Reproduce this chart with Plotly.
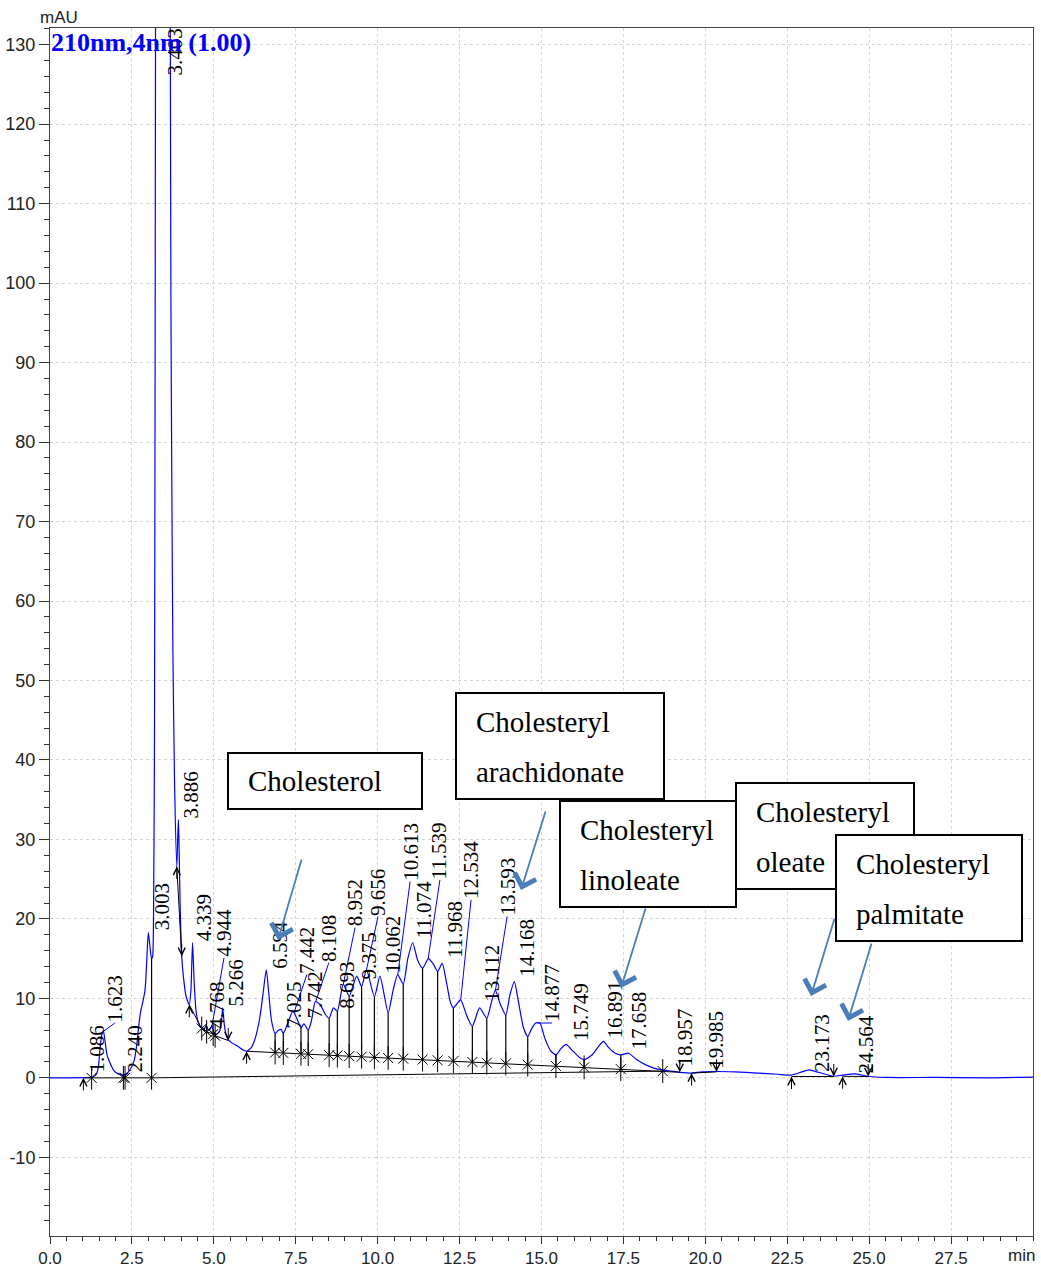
import numpy as np
import plotly.graph_objects as go

# ---------------- chromatogram (210 nm, 4 nm bandwidth) ----------------
trace_t = [0.00, 0.50, 1.00, 1.30, 1.42, 1.48, 1.53, 1.58, 1.63, 1.68, 1.74, 1.83, 1.95, 2.08, 2.24,
           2.36, 2.47, 2.57, 2.64, 2.70, 2.76, 2.83, 2.90, 2.95, 3.00, 3.05, 3.10, 3.13, 3.16, 3.19,
           3.22, 3.27, 3.40, 3.55, 3.67, 3.69, 3.72, 3.75, 3.80, 3.87, 3.90, 3.92, 3.94, 3.97, 4.02,
           4.07, 4.15, 4.25, 4.30, 4.35, 4.40, 4.46, 4.53, 4.63, 4.70, 4.77, 4.83, 4.90, 4.94, 5.00,
           5.07, 5.15, 5.22, 5.27, 5.32, 5.38, 5.44, 5.55, 5.72, 5.90, 6.00, 6.12, 6.25, 6.40, 6.50,
           6.60, 6.68, 6.76, 6.87, 6.97, 7.05, 7.12, 7.25, 7.41, 7.55, 7.66, 7.75, 7.88, 7.98, 8.10,
           8.25, 8.40, 8.52, 8.65, 8.77, 8.95, 9.13, 9.36, 9.51, 9.66, 9.90, 10.07, 10.32, 10.47, 10.61,
           10.78, 10.92, 11.07, 11.22, 11.37, 11.55, 11.70, 11.83, 11.97, 12.10, 12.22, 12.31, 12.53, 12.72, 12.89,
           13.11, 13.33, 13.47, 13.59, 13.75, 13.91, 14.04, 14.17, 14.30, 14.45, 14.58, 14.70, 14.82, 14.95, 15.10,
           15.28, 15.44, 15.60, 15.75, 15.95, 16.15, 16.30, 16.55, 16.75, 16.89, 17.05, 17.25, 17.42, 17.66, 17.90,
           18.20, 18.45, 18.70, 18.96, 19.22, 19.58, 19.90, 20.34, 20.90, 21.60, 22.20, 22.63, 22.95, 23.17, 23.45,
           23.92, 24.19, 24.56, 24.97, 25.50, 27.00, 28.50, 30.00]
trace_v = [0.00, 0.00, 0.02, 0.10, 0.5, 1.5, 3.8, 5.4, 5.9, 4.6, 2.9, 1.9, 0.9, 0.5, 0.35,
           0.6, 1.2, 2.2, 3.9, 6.2, 8.2, 9.5, 11.0, 14.5, 18.3, 16.5, 15.0, 15.2, 20.5, 45.0,
           130.0, 320.0, 450.0, 320.0, 135.0, 98.0, 73.0, 54.0, 37.5, 26.6, 30.5, 32.5, 29.0, 22.0, 15.3,
           12.8, 10.3, 9.2, 11.0, 17.0, 12.0, 8.3, 6.9, 6.2, 6.1, 6.6, 6.0, 6.2, 6.6, 5.7,
           5.5, 5.7, 6.6, 8.8, 6.7, 5.3, 4.8, 4.4, 4.0, 3.5, 3.35, 3.7, 4.8, 7.5, 10.5,
           13.6, 10.5, 7.2, 5.6, 6.0, 6.1, 5.6, 6.8, 8.4, 7.3, 6.3, 6.8, 6.0, 7.2, 9.6,
           9.2, 8.0, 7.5, 8.8, 8.4, 11.8, 10.3, 12.8, 11.5, 13.6, 10.2, 12.8, 8.2, 11.0, 13.0,
           11.8, 15.0, 17.0, 14.8, 13.8, 15.0, 14.3, 13.4, 14.4, 12.0, 9.5, 8.8, 9.8, 7.8, 6.5,
           8.8, 7.5, 9.5, 11.0, 9.2, 7.9, 10.5, 12.1, 9.5, 6.3, 5.2, 6.2, 6.9, 6.9, 5.0,
           3.4, 2.9, 3.7, 4.2, 3.4, 2.6, 2.3, 2.9, 4.0, 4.6, 3.8, 3.1, 2.9, 3.1, 2.3,
           1.6, 1.2, 1.0, 0.85, 0.7, 0.6, 0.75, 0.8, 0.75, 0.6, 0.45, 0.35, 0.75, 1.0, 0.7,
           0.2, 0.35, 0.5, 0.2, 0.05, 0.05, 0.00, 0.10]

# ---------------- integration results ----------------
peak_rt = [1.086, 1.623, 2.240, 3.003, 3.403, 3.886, 4.339, 4.768, 4.944, 5.266,
           6.594, 7.025, 7.442, 7.742, 8.108, 8.693, 8.952, 9.375, 9.656, 10.062,
           10.613, 11.074, 11.539, 11.968, 12.534, 13.112, 13.593, 14.168, 14.877, 15.749,
           16.891, 17.658, 18.957, 19.985, 23.173, 24.564]

# baselines drawn by the integrator (segments separated by None)
base_t = [1.02, 3.10, 18.70, None, 3.87, 4.02, None,
          4.25, 4.63, 4.78, 4.98, 5.04, 5.44, None,
          6.00, 18.70, 19.22, None, 19.58, 20.34, None,
          22.63, 23.92, None, 24.19, 24.97]
base_v = [0.0, 0.0, 0.85, None, 26.6, 15.3, None,
          9.2, 6.2, 5.8, 5.5, 5.3, 4.7, None,
          3.35, 0.85, 0.7, None, 0.6, 0.75, None,
          0.17, 0.17, None, 0.2, 0.17]

# peak separation points (drop lines), with their baseline levels
split_t = [1.27, 2.24, 2.29, 3.10,
           4.63, 4.78, 4.98, 5.04,
           6.87, 7.12, 7.66, 7.88, 8.52, 8.77, 9.13, 9.51, 9.90, 10.32, 10.78,
           11.37, 11.83, 12.31, 12.89, 13.33, 13.91, 14.58, 15.44, 16.30, 17.42, 18.70]
split_base = [0.0, 0.0, 0.0, 0.0,
              6.2, 5.8, 5.5, 5.3]
d_t, d_v = [6.00, 18.70], [3.35, 0.85]
split_base += [float(np.interp(t, d_t, d_v)) for t in split_t[8:]]

# peak start / end markers
start_t = [1.02, 3.87, 4.25, 6.00, 19.58, 22.63, 24.19]
start_v = [0.0, 26.6, 9.2, 3.35, 0.6, 0.17, 0.2]
end_t = [4.02, 5.44, 19.22, 20.34, 23.92, 24.97]
end_v = [15.3, 4.7, 0.7, 0.75, 0.17, 0.17]

# retention-time label anchors (bottom centre of rotated text) and leader flags
label_t = [1.43, 1.98, 2.59, 3.42, 3.80, 4.32, 4.70, 5.10, 5.31, 5.68,
           7.02, 7.45, 7.84, 8.09, 8.51, 9.06, 9.31, 9.73, 10.01, 10.44,
           10.99, 11.43, 11.90, 12.36, 12.85, 13.49, 13.95, 14.56, 15.32, 16.20,
           17.24, 17.99, 19.35, 20.32, 23.56, 24.90]
label_v = [0.6, 6.9, 0.6, 18.4, 126.0, 32.5, 17.0, 6.0, 15.1, 8.8,
           13.6, 6.0, 13.0, 7.3, 14.5, 8.6, 18.9, 12.3, 20.3, 13.0,
           24.7, 17.4, 24.9, 14.9, 22.4, 9.4, 20.3, 12.6, 6.9, 4.5,
           4.8, 3.5, 1.3, 1.0, 0.6, 0.4]
leader = [False, True, False, False, False, False, False, False, True, False,
          False, False, True, False, True, False, True, False, True, False,
          True, False, True, False, True, False, True, False, True, False,
          False, False, False, False, False, False]

# compound call-outs
callout_names = [["Cholesterol"], ["Cholesteryl", "arachidonate"], ["Cholesteryl", "linoleate"],
                 ["Cholesteryl", "oleate"], ["Cholesteryl", "palmitate"]]

# ---------------- figure geometry (pixels) ----------------
W, H = 1041, 1271
ML, MR, MT, MB = 50, 8, 28, 35
PW, PH = W - ML - MR, H - MT - MB


def pxx(x):
    return (x - ML) / PW


def pxy(y):
    return (H - MB - y) / PH


BLUE = "#0000ff"
ARROW = "#4a7ebb"
SERIF = "Liberation Serif, Times New Roman, serif"
SANS = "Liberation Sans, Arial, sans-serif"

fig = go.Figure()

# chromatogram
fig.add_trace(go.Scatter(x=trace_t, y=trace_v, mode="lines",
                         line=dict(color=BLUE, width=1.2, shape="spline", smoothing=0.6),
                         hoverinfo="skip", showlegend=False))

# leader lines from peak apex to its label
apex_v = np.interp(peak_rt, trace_t, trace_v)
lx, ly = [], []
for rt, av, tx, ty, flag in zip(peak_rt, apex_v, label_t, label_v, leader):
    if flag:
        lx += [rt, tx, None]
        ly += [av, ty, None]
fig.add_trace(go.Scatter(x=lx, y=ly, mode="lines", line=dict(color=BLUE, width=1),
                         hoverinfo="skip", showlegend=False))

# baselines
fig.add_trace(go.Scatter(x=base_t, y=base_v, mode="lines", line=dict(color="black", width=1),
                         connectgaps=False, hoverinfo="skip", showlegend=False))

# drop lines at separation points
top_v = np.interp(split_t, trace_t, trace_v)
dx, dy = [], []
for t, b, tv in zip(split_t, split_base, top_v):
    dx += [t, t, None]
    dy += [b, tv, None]
fig.add_trace(go.Scatter(x=dx, y=dy, mode="lines", line=dict(color="black", width=1.2),
                         hoverinfo="skip", showlegend=False))

# separation markers (vertical bar + cross)
fig.add_trace(go.Scatter(x=split_t, y=split_base, mode="markers",
                         marker=dict(symbol="x-thin-open", size=10, color="black",
                                     line=dict(color="black", width=1)),
                         hoverinfo="skip", showlegend=False))
fig.add_trace(go.Scatter(x=split_t, y=split_base, mode="markers",
                         marker=dict(symbol="line-ns-open", size=17, color="black",
                                     line=dict(color="black", width=1)),
                         hoverinfo="skip", showlegend=False))

annotations = []

# start (up) and end (down) arrows on the baselines
for t, v in zip(start_t, start_v):
    annotations.append(dict(x=t, y=v, xref="x", yref="y", ax=0, ay=14, text="",
                            showarrow=True, arrowhead=5, arrowsize=1.4, arrowwidth=1,
                            arrowcolor="black"))
for t, v in zip(end_t, end_v):
    annotations.append(dict(x=t, y=v, xref="x", yref="y", ax=0, ay=-14, text="",
                            showarrow=True, arrowhead=5, arrowsize=1.4, arrowwidth=1,
                            arrowcolor="black"))

# retention-time labels
for rt, tx, ty in zip(peak_rt, label_t, label_v):
    annotations.append(dict(x=tx, y=ty, xref="x", yref="y", text=f"{rt:.3f}", showarrow=False,
                            textangle=-90, xanchor="center", yanchor="bottom", borderpad=0,
                            font=dict(family=SERIF, size=21, color="black")))

# call-out boxes: (x0, y0, x1, y1) in pixels, text lines centred at the listed heights
boxes = [(228, 753, 422, 809), (456, 693, 664, 799), (560, 801, 736, 907),
         (736, 783, 914, 889), (836, 835, 1022, 941)]
line_y = [[781], [722, 772], [830, 880], [812, 862], [864, 914]]
shapes = []
for (x0, y0, x1, y1), names, ys in zip(boxes, callout_names, line_y):
    shapes.append(dict(type="rect", xref="paper", yref="paper",
                       x0=pxx(x0), x1=pxx(x1), y0=pxy(y1), y1=pxy(y0),
                       line=dict(color="black", width=2), fillcolor="white", layer="above"))
    for name, yc in zip(names, ys):
        annotations.append(dict(x=pxx(x0 + 18), y=pxy(yc), xref="paper", yref="paper",
                                text=name, showarrow=False, xanchor="left", yanchor="middle",
                                font=dict(family=SERIF, size=29, color="black")))

# call-out arrows: head and tail in pixels
arrows = [((278, 940), (302, 858)), ((521, 890), (546, 810)), ((621, 988), (646, 907)),
          ((811, 996), (835, 917)), ((848, 1021), (872, 942))]
for (hx, hy), (tx, ty) in arrows:
    annotations.append(dict(x=pxx(hx), y=pxy(hy), xref="paper", yref="paper",
                            ax=tx - hx, ay=ty - hy, text="", showarrow=True,
                            arrowhead=4, arrowsize=2.4, arrowwidth=1.8, arrowcolor=ARROW))

# channel title, units
annotations.append(dict(x=0, y=1, xref="paper", yref="paper", xanchor="left", yanchor="top",
                        text="<b>210nm,4nm (1.00)</b>", showarrow=False, borderpad=0,
                        yshift=1, font=dict(family=SERIF, size=26, color=BLUE)))
annotations.append(dict(x=pxx(39), y=1, xref="paper", yref="paper", xanchor="left",
                        yanchor="bottom", text="mAU", showarrow=False, borderpad=0,
                        font=dict(family=SANS, size=17, color="#222")))
annotations.append(dict(x=pxx(1036), y=0, xref="paper", yref="paper", xanchor="right",
                        yanchor="top", yshift=-9, text="min", showarrow=False, borderpad=0,
                        font=dict(family=SANS, size=17, color="#222")))

xt = [i * 2.5 for i in range(12)]
yt = list(range(-10, 131, 10))

fig.update_layout(
    width=W, height=H, margin=dict(l=ML, r=MR, t=MT, b=MB, autoexpand=False),
    paper_bgcolor="white", plot_bgcolor="white",
    shapes=shapes, annotations=annotations, showlegend=False,
    xaxis=dict(range=[0, 30], tickvals=xt, ticktext=[f"{v:.1f}" for v in xt],
               ticks="outside", ticklen=7, tickcolor="#333", tickwidth=1,
               minor=dict(dtick=0.5, ticks="outside", ticklen=4, tickcolor="#333", showgrid=False),
               showgrid=True, gridcolor="#d4d4d4", griddash="dot", gridwidth=1,
               showline=True, linecolor="#444", linewidth=1, mirror=True, zeroline=False,
               tickfont=dict(family=SANS, size=17, color="#222")),
    yaxis=dict(range=[-19.9, 132.1], tickvals=yt, ticktext=[str(v) for v in yt],
               ticks="outside", ticklen=10, tickcolor="#333", tickwidth=1,
               minor=dict(dtick=2, ticks="outside", ticklen=5, tickcolor="#333", showgrid=False),
               showgrid=True, gridcolor="#d4d4d4", griddash="dot", gridwidth=1,
               showline=True, linecolor="#444", linewidth=1, mirror=True, zeroline=False,
               tickfont=dict(family=SANS, size=18, color="#222")),
)

fig.write_html("out.html")
